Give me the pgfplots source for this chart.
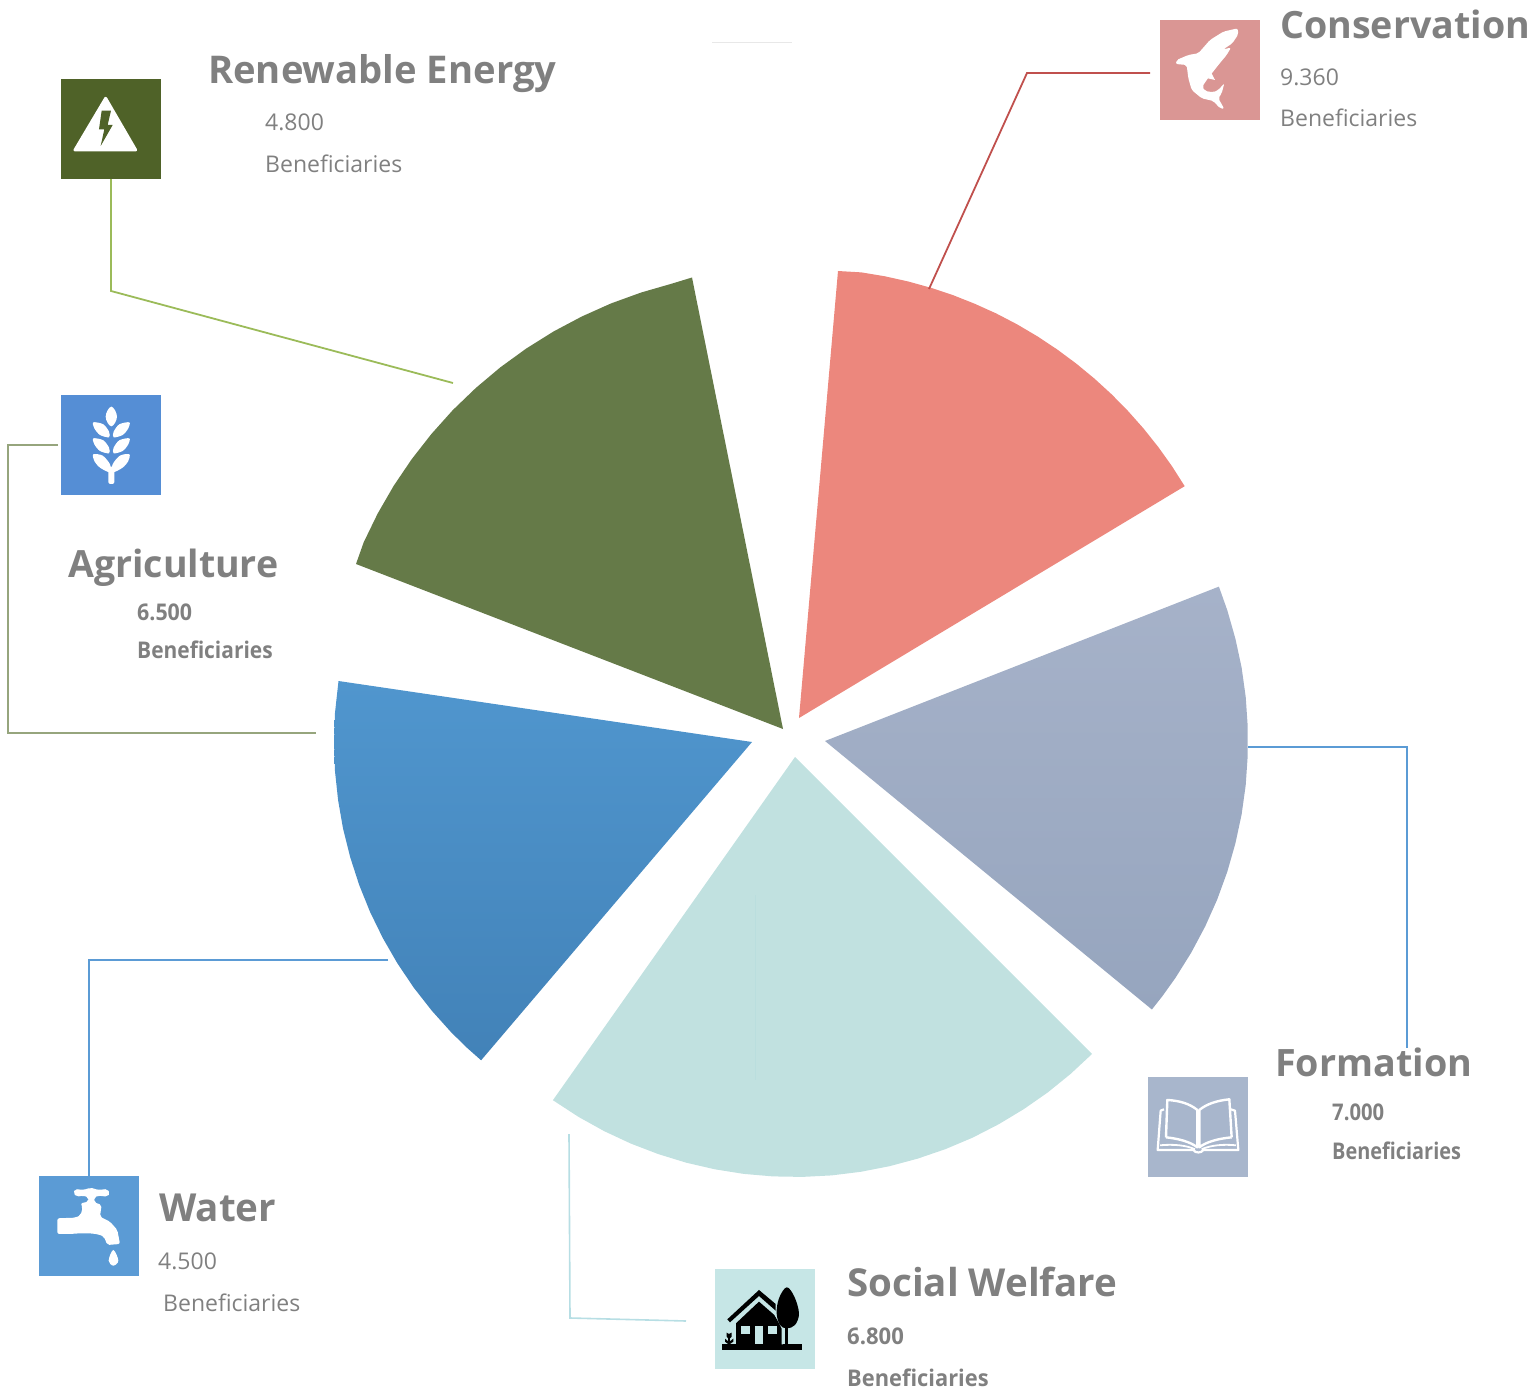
\documentclass[border=0pt]{standalone}
\usepackage{graphicx}
\usepackage{pgfplots}
\pgfplotsset{compat=1.18}
\usepackage{fontspec}
\setmainfont{Open Sans}
\definecolor{txt}{RGB}{128,128,128}
\definecolor{sqcons}{RGB}{218,150,148}
\definecolor{sqren}{RGB}{79,98,40}
\definecolor{sqagr}{RGB}{85,142,213}
\definecolor{sqform}{RGB}{168,182,204}
\definecolor{sqwat}{RGB}{91,155,213}
\definecolor{sqsoc}{RGB}{198,230,230}
\definecolor{wcons}{RGB}{236,135,125}
\definecolor{wren}{RGB}{101,122,72}
\definecolor{wsoc}{RGB}{193,225,224}
\newcommand{\tit}[4]{\node[anchor=base west,inner sep=0pt,text=txt] at (axis cs:#1,#2) {\fontsize{#3}{40}\selectfont\bfseries #4};}
\newcommand{\sub}[3]{\node[anchor=base west,inner sep=0pt,text=txt] at (axis cs:#1,#2) {\fontsize{23}{26}\selectfont #3};}
\newcommand{\subb}[4]{\node[anchor=base west,inner sep=0pt,text=txt] at (axis cs:#1,#2) {\scalebox{#3}[1]{\fontsize{23}{26}\selectfont\bfseries #4}};}
\begin{document}
\begin{tikzpicture}
\useasboundingbox (0,0) rectangle (1535pt,1391pt);
\begin{axis}[hide axis,scale only axis,width=1535pt,height=1391pt,
  xmin=0,xmax=1535,ymin=0,ymax=1391,y dir=reverse,clip=false]
% wedges
\addplot[draw=none,fill=wcons] coordinates {(799,718)(838,271)(861.6,272.4)(884.9,276.3)(907.9,281.4)(930.6,287.7)(952.9,295.1)(974.8,303.8)(996.3,313.5)(1017.2,324.4)(1037.5,336.4)(1057.1,349.4)(1076,363.4)(1094.2,378.4)(1111.6,394.3)(1128.1,411.1)(1143.7,428.7)(1158.4,447.2)(1172.1,466.4)(1184.7,486.2)} --cycle;
\addplot[draw=none,top color={rgb,255:red,166;green,178;blue,201},bottom color={rgb,255:red,150;green,165;blue,190}] coordinates {(825,741)(1218.9,586.6)(1227.3,610.3)(1235.4,638.7)(1241.6,667.5)(1245.7,696.8)(1247.7,726.2)(1247.7,755.8)(1245.7,785.2)(1241.6,814.5)(1235.4,843.3)(1227.3,871.7)(1217.2,899.5)(1205.2,926.4)(1191.3,952.5)(1175.7,977.5)(1162.8,995.6)(1151.9,1009.5)} --cycle;
\addplot[draw=none,fill=wsoc] coordinates {(795,757)(1092,1054)(1070.5,1074)(1047.8,1092.4)(1023.7,1109.2)(998.6,1124.3)(972.5,1137.7)(945.5,1149.1)(917.8,1158.6)(889.5,1166.2)(860.7,1171.8)(831.6,1175.4)(802.3,1176.9)(773,1176.4)(743.8,1173.9)(714.9,1169.3)(686.3,1162.7)(658.3,1154.1)(630.9,1143.6)(604.3,1131.2)(578.7,1117)(552.9,1100.2)} --cycle;
\addplot[draw=none,top color={rgb,255:red,80;green,150;blue,206},bottom color={rgb,255:red,66;green,130;blue,184}] coordinates {(752,742)(338.5,681)(335,712.8)(334,742)(335,771.2)(338.1,800.2)(343.1,828.9)(350.2,857.2)(359.2,885)(370.1,912)(382.9,938.2)(397.5,963.5)(413.8,987.7)(431.8,1010.7)(451.3,1032.4)(466.9,1047.7)(481.1,1060.3)} --cycle;
\addplot[draw=none,fill=wren] coordinates {(783,729)(692,277.5)(672,283.6)(641.2,292.5)(611.1,303.4)(581.8,316.5)(553.5,331.5)(526.3,348.5)(500.4,367.3)(475.9,387.9)(452.8,410.1)(431.4,434)(411.7,459.2)(393.7,485.8)(377.7,513.5)(363.7,542.3)(356,564)} --cycle;
% leader lines
\addplot[line width=1.8pt,color={rgb,255:red,192;green,80;blue,77}] coordinates {(1150,73)(1027,73)(929,289)};
\addplot[line width=1.8pt,color={rgb,255:red,155;green,187;blue,89}] coordinates {(111,179)(111,291)(453,383)};
\addplot[line width=2pt,color={rgb,255:red,150;green,165;blue,125}] coordinates {(58,445)(8,445)(8,733)(316,733)};
\addplot[line width=2.4pt,color=sqwat] coordinates {(1248,747)(1407,747)(1407,1048)};
\addplot[line width=2.4pt,color=sqwat] coordinates {(388,960)(89,960)(89,1176)};
\addplot[line width=1.6pt,color={rgb,255:red,183;green,222;blue,228}] coordinates {(569,1134)(570,1318)(686,1321)};
\addplot[line width=1pt,color={rgb,255:red,232;green,232;blue,232}] coordinates {(712,43)(792,43)};
\addplot[line width=1pt,color={rgb,255:red,186;green,222;blue,222}] coordinates {(755,895)(755,1080)};
% squares
\addplot[draw=none,fill=sqcons] coordinates {(1160,20)(1260,20)(1260,120)(1160,120)} --cycle;
\addplot[draw=none,fill=sqren] coordinates {(61,79)(161,79)(161,179)(61,179)} --cycle;
\addplot[draw=none,fill=sqagr] coordinates {(61,395)(161,395)(161,495)(61,495)} --cycle;
\addplot[draw=none,fill=sqform] coordinates {(1148,1077)(1248,1077)(1248,1177)(1148,1177)} --cycle;
\addplot[draw=none,fill=sqwat] coordinates {(39,1176)(139,1176)(139,1276)(39,1276)} --cycle;
\addplot[draw=none,fill=sqsoc] coordinates {(715,1269)(815,1269)(815,1369)(715,1369)} --cycle;
% text
\tit{1280}{39}{37.6}{Conservation}
\sub{1280}{86}{9.360}
\sub{1280}{127}{Beneficiaries}
\tit{208}{84}{38.2}{Renewable Energy}
\sub{265}{131}{4.800}
\sub{265}{173}{Beneficiaries}
\tit{68}{577}{37.5}{Agriculture}
\subb{137}{620}{.93}{6.500}
\subb{137}{658}{.91}{Beneficiaries}
\tit{1275}{1076}{37.7}{Formation}
\subb{1332}{1120}{.88}{7.000}
\subb{1332}{1159}{.865}{Beneficiaries}
\tit{159}{1221}{38.6}{Water}
\sub{158}{1269}{4.500}
\sub{163}{1311}{Beneficiaries}
\tit{847}{1296}{38.5}{Social Welfare}
\subb{847}{1344}{.96}{6.800}
\subb{847}{1386}{.95}{Beneficiaries}
\end{axis}
\begin{scope}[x=1pt,y=-1pt,yshift=1391pt]
% shark
\begin{scope}[shift={(1155,15)},x=.3333pt,y=-.3333pt]
\fill[white,rounded corners=2pt] (248,40)--(250,58)--(232,85)--(205,103)--(228,98)--(215,120)--(190,150)--(155,195)--(142,215)--(150,228)--(175,232)--(190,225)--(208,205)--(200,235)--(190,250)--(208,282)--(195,280)--(175,258)--(140,250)--(110,225)--(100,190)--(95,150)--(62,147)--(65,135)--(100,120)--(130,115)--(165,75)--(205,50)--cycle;
\fill[white] (168,172)--(180,195)--(158,190)--cycle;
\end{scope}
% triangle
\begin{scope}[shift={(50,70)},x=.3333pt,y=-.3333pt]
\fill[white,draw=white,line width=3pt,line join=round] (167,85)--(257,240)--(75,240)--cycle;
\fill[sqren] (155,122)--(183,122)--(173,165)--(188,165)--(152,228)--(163,178)--(147,178)--cycle;
\end{scope}
% wheat
\begin{scope}[shift={(50,385)},x=.3333pt,y=-.3333pt]
\fill[white] plot[smooth cycle,tension=.7] coordinates {(184,65)(201,95)(184,124)(167,95)};
\foreach \d in {0,48}{
\fill[white] plot[smooth cycle,tension=.5] coordinates {(130,112+\d)(160,118+\d)(177,140+\d)(177,157+\d)(150,150+\d)(133,130+\d)};
\fill[white] plot[smooth cycle,tension=.5] coordinates {(238,112+\d)(208,118+\d)(191,140+\d)(191,157+\d)(218,150+\d)(235,130+\d)};
}
\fill[white] plot[smooth cycle,tension=.5] coordinates {(130,208)(158,212)(180,238)(180,262)(150,248)(133,228)};
\fill[white] plot[smooth cycle,tension=.5] coordinates {(238,208)(210,212)(188,238)(188,262)(218,248)(235,228)};
\fill[white,rounded corners=2pt] (175,245) rectangle (193,297);
\end{scope}
% book
\begin{scope}[shift={(1140,1040)},x=.3333pt,y=-.3333pt]
\draw[white,line width=2.4pt,line join=round] (78,292)--(82,180) .. controls (120,182) and (150,192) .. (172,210)--(172,322) .. controls (150,305) and (115,296) .. (78,292);
\draw[white,line width=2.4pt,line join=round] (275,292)--(268,178) .. controls (230,182) and (200,192) .. (178,210)--(178,322) .. controls (200,305) and (235,296) .. (275,292);
\draw[white,line width=2.2pt,line join=round] (72,208)--(62,212)--(53,330)--(160,330) .. controls (165,340) and (185,340) .. (190,330)--(295,330)--(285,212)--(272,208);
\draw[white,line width=1.8pt] (60,316) .. controls (100,312) and (140,316) .. (165,328);
\draw[white,line width=1.8pt] (288,316) .. controls (250,312) and (210,316) .. (185,328);
\end{scope}
% faucet
\begin{scope}[shift={(30,1165)},x=.3333pt,y=-.3333pt]
\fill[white,rounded corners=2pt] (130,85)--(135,72)--(160,75)--(182,68)--(205,75)--(232,72)--(240,85)--(232,95)--(205,92)--(193,97)--(193,112)--(215,120)--(212,140)--(210,155)--(240,170)--(262,195)--(270,237)--(232,240)--(222,215)--(205,208)--(180,205)--(150,205)--(120,207)--(82,207)--(82,160)--(137,158)--(152,150)--(158,128)--(152,115)--(175,110)--(175,97)--(160,92)--(140,95)--cycle;
\fill[white] plot[smooth cycle,tension=.6] coordinates {(250,255)(265,287)(250,302)(236,287)};
\end{scope}
% house
\begin{scope}[shift={(705,1260)},x=.3333pt,y=-.3333pt]
\fill[black] (50,253) rectangle (290,270);
\fill[black] (67,178)--(162,90)--(212,132)--(212,152)--(162,108)--(75,187)--cycle;
\fill[black] (93,253)--(93,190)--(162,125)--(208,165)--(232,205)--(232,253)--cycle;
\fill[sqsoc] (108,197) rectangle (135,222);
\fill[sqsoc] (190,197) rectangle (217,222);
\fill[sqsoc] (150,197) rectangle (175,253);
\draw[sqsoc,line width=1.2pt] (208,158)--(232,205)--(232,253);
\fill[black] plot[smooth cycle,tension=.6] coordinates {(245,82)(268,110)(282,160)(270,195)(245,205)(225,195)(215,160)(222,115)};
\fill[black] (240,200) rectangle (250,255);
\fill[black] (65,218)--(72,222)--(80,218)--(80,230)--(72,238)--(65,230)--cycle;
\fill[black] (70,232) rectangle (74,253);
\fill[black] (60,236)--(72,246)--(85,236)--(85,245)--(72,254)--(60,245)--cycle;
\end{scope}
\end{scope}
\end{tikzpicture}
\end{document}
